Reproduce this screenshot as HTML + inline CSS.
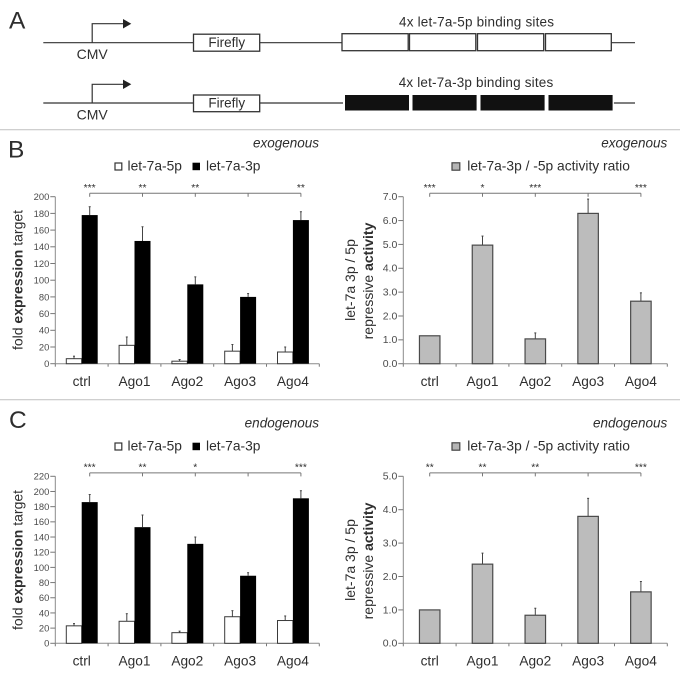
<!DOCTYPE html>
<html lang="en">
<head>
<meta charset="utf-8">
<title>let-7a reporter activity</title>
<style>
html,body{margin:0;padding:0;background:#fff;width:680px;height:680px;overflow:hidden}
svg{display:block;filter:blur(.3px)}
text{font-family:"Liberation Sans",sans-serif;fill:#2e2e2e}
</style>
</head>
<body>
<svg id="figure" xmlns="http://www.w3.org/2000/svg" width="680" height="680" viewBox="0 0 680 680">
  <rect width="680" height="680" fill="#fff"/>
  <rect x="0" y="129" width="680" height="1.3" fill="#cfcfcf"/>
  <rect x="0" y="399" width="680" height="1.3" fill="#cfcfcf"/>

  <text x="9" y="28.5" font-size="24.5">A</text>
  <text x="8" y="157.5" font-size="24.5">B</text>
  <text x="9" y="428" font-size="24.5">C</text>

  <g stroke="#333" fill="none">
    <path d="M43.3 42.7H193.5M259.7 42.7H342M611.3 42.7H635" stroke-width="1.2"/>
    <path d="M92.2 42.7V23.7H124" stroke-width="1.2"/>
    <path d="M123 19L131.3 23.7L123 28.5Z" fill="#222" stroke="none"/>
    <rect x="193.5" y="34.2" width="66.2" height="17" fill="#fff" stroke-width="1.3"/>
    <rect x="342" y="33.7" width="66.2" height="17" fill="#fff" stroke-width="1.3"/>
    <rect x="409.5" y="33.7" width="66.3" height="17" fill="#fff" stroke-width="1.3"/>
    <rect x="477.5" y="33.7" width="66.2" height="17" fill="#fff" stroke-width="1.3"/>
    <rect x="545.5" y="33.7" width="65.8" height="17" fill="#fff" stroke-width="1.3"/>
  </g>
  <text x="92.2" y="59" font-size="14" text-anchor="middle">CMV</text>
  <text x="226.8" y="47" font-size="13.5" text-anchor="middle">Firefly</text>
  <text x="399" y="26.5" font-size="13.5" textLength="155">4x let-7a-5p binding sites</text>

  <g stroke="#333" fill="none">
    <path d="M43.3 103H193.5M259.7 103H343M613.9 103H635" stroke-width="1.2"/>
    <path d="M92.2 103V84.3H124" stroke-width="1.2"/>
    <path d="M123 79.6L131.3 84.3L123 89Z" fill="#222" stroke="none"/>
    <rect x="193.5" y="95" width="66.2" height="16.7" fill="#fff" stroke-width="1.3"/>
    <rect x="345" y="95" width="64" height="15.5" fill="#111" stroke="none"/>
    <rect x="412.5" y="95" width="64.1" height="15.5" fill="#111" stroke="none"/>
    <rect x="480.5" y="95" width="64.1" height="15.5" fill="#111" stroke="none"/>
    <rect x="548.5" y="95" width="64.1" height="15.5" fill="#111" stroke="none"/>
  </g>
  <text x="92.2" y="119.5" font-size="14" text-anchor="middle">CMV</text>
  <text x="226.8" y="107.5" font-size="13.5" text-anchor="middle">Firefly</text>
  <text x="398.7" y="87" font-size="13.5" textLength="154.5">4x let-7a-3p binding sites</text>

  <g>
    <text x="319" y="147.5" font-size="13.5" font-style="italic" text-anchor="end">exogenous</text>
    <text x="667.3" y="147.5" font-size="13.5" font-style="italic" text-anchor="end">exogenous</text>
    <rect x="115" y="163" width="6.8" height="7" fill="#fff" stroke="#333" stroke-width="1.2"/>
    <text x="127.5" y="170.7" font-size="13.8">let-7a-5p</text>
    <rect x="192.5" y="162.7" width="7.5" height="7.5" fill="#000"/>
    <text x="206" y="170.7" font-size="13.8">let-7a-3p</text>
    <rect x="452" y="162.8" width="7.8" height="7.4" fill="#b5b5b5" stroke="#444" stroke-width="1.2"/>
    <text x="467.3" y="170.7" font-size="13.8">let-7a-3p / -5p activity ratio</text>
    <text transform="translate(22.7 280) rotate(-90)" font-size="14" text-anchor="middle">fold <tspan font-weight="bold">expression</tspan> target</text>
    <text transform="translate(355 280) rotate(-90)" font-size="14" text-anchor="middle">let-7a 3p / 5p</text>
    <text transform="translate(373 281) rotate(-90)" font-size="14" text-anchor="middle">repressive <tspan font-weight="bold">activity</tspan></text>
  </g>

  <g>
    <text x="319" y="427.5" font-size="13.5" font-style="italic" text-anchor="end">endogenous</text>
    <text x="667.3" y="427.5" font-size="13.5" font-style="italic" text-anchor="end">endogenous</text>
    <rect x="115" y="443" width="6.8" height="7" fill="#fff" stroke="#333" stroke-width="1.2"/>
    <text x="127.5" y="450.7" font-size="13.8">let-7a-5p</text>
    <rect x="192.5" y="442.7" width="7.5" height="7.5" fill="#000"/>
    <text x="206" y="450.7" font-size="13.8">let-7a-3p</text>
    <rect x="452" y="442.8" width="7.8" height="7.4" fill="#b5b5b5" stroke="#444" stroke-width="1.2"/>
    <text x="467.3" y="450.7" font-size="13.8">let-7a-3p / -5p activity ratio</text>
    <text transform="translate(22.7 560) rotate(-90)" font-size="14" text-anchor="middle">fold <tspan font-weight="bold">expression</tspan> target</text>
    <text transform="translate(355 560) rotate(-90)" font-size="14" text-anchor="middle">let-7a 3p / 5p</text>
    <text transform="translate(373 561) rotate(-90)" font-size="14" text-anchor="middle">repressive <tspan font-weight="bold">activity</tspan></text>
  </g>
  <g id="charts"></g>
</svg>
<script>
const categories = ['ctrl', 'Ago1', 'Ago2', 'Ago3', 'Ago4'];

const exoTicks = [0, 20, 40, 60, 80, 100, 120, 140, 160, 180, 200];
const exo5p = [6, 22, 3, 15, 14];
const exo5pErr = [3, 10, 2, 8, 6];
const exo3p = [178, 147, 95, 80, 172];
const exo3pErr = [10, 17, 9, 4, 10];
const exoStars = ['***', '**', '**', '', '**'];

const exoRatioTicks = [0, 1, 2, 3, 4, 5, 6, 7];
const exoRatio = [1.17, 4.97, 1.04, 6.3, 2.62];
const exoRatioErr = [0, 0.38, 0.25, 0.6, 0.35];
const exoRatioStars = ['***', '*', '***', '', '***'];

const endoTicks = [0, 20, 40, 60, 80, 100, 120, 140, 160, 180, 200, 220];
const endo5p = [23, 29, 14, 35, 30];
const endo5pErr = [3, 10, 2, 8, 6];
const endo3p = [186, 153, 131, 89, 191];
const endo3pErr = [10, 16, 9, 4, 10];
const endoStars = ['***', '**', '*', '', '***'];

const endoRatioTicks = [0, 1, 2, 3, 4, 5];
const endoRatio = [1.0, 2.37, 0.84, 3.8, 1.54];
const endoRatioErr = [0, 0.33, 0.21, 0.54, 0.31];
const endoRatioStars = ['**', '**', '**', '', '***'];

const root = document.getElementById('charts');
const NS = 'http://www.w3.org/2000/svg';

function svgEl(tag, attrs, parent, txt) {
  const el = document.createElementNS(NS, tag);
  for (const k in attrs) el.setAttribute(k, attrs[k]);
  if (txt !== undefined) el.textContent = txt;
  parent.appendChild(el);
  return el;
}

function makeAxes(left, bottom, ticks, decimals, fontSize, stars, bracketOffset, name) {
  const width = 264, height = 167;
  const maxTick = ticks[ticks.length - 1];
  const y = v => bottom - (v / maxTick) * height;
  const band = width / categories.length;
  const cx = i => left + band * (i + 0.5);
  const g = svgEl('g', {}, root);
  
  

  const yLine = svgEl('line', {x1: left, x2: left, y1: y(maxTick), y2: bottom, stroke: '#8a8a8a', 'stroke-width': 1}, g);
  
  
  ticks.forEach(t => {
    const tick = svgEl('line', {x1: left - 5, x2: left, y1: y(t), y2: y(t), stroke: '#777', 'stroke-width': 1}, g);
    
    
    const label = svgEl('text', {x: left - 6, y: y(t) + 3.4, 'font-size': fontSize, 'text-anchor': 'end', style: 'fill:#4a4a4a'}, g, t.toFixed(decimals));
    
    
  });

  for (let i = 0; i <= categories.length; i++) {
    const tick = svgEl('line', {x1: left + band * i, x2: left + band * i, y1: bottom, y2: bottom + 3, stroke: '#777', 'stroke-width': 1}, g);
    
    
  }
  categories.forEach((c, i) => {
    const label = svgEl('text', {x: cx(i), y: bottom + 22.3, 'font-size': 13.7, 'text-anchor': 'middle'}, g, c);
    
    
  });

  const bracketY = bottom - 170.4;
  const bx = i => cx(i) + bracketOffset;
  const bracket = svgEl('line', {x1: bx(0), x2: bx(4), y1: bracketY, y2: bracketY, stroke: '#777', 'stroke-width': 1}, g);
  
  
  stars.forEach((s, i) => {
    const tick = svgEl('line', {x1: bx(i), x2: bx(i), y1: bracketY, y2: bracketY + 3.5, stroke: '#777', 'stroke-width': 1}, g);
    
    
    if (s) {
      const star = svgEl('text', {x: bx(i), y: bracketY - 2.3, 'font-size': 10.3, 'text-anchor': 'middle'}, g, s);
      
      
    }
  });

  const axisLine = svgEl('line', {x1: left, x2: left + width, y1: bottom, y2: bottom, stroke: '#8a8a8a', 'stroke-width': 1}, g);
  
  
  return {g, y, cx, bottom};
}

function drawError(g, x, fromY, toY) {
  const stem = svgEl('line', {x1: x, x2: x, y1: fromY, y2: toY, stroke: '#444', 'stroke-width': 1}, g);
  
  
  const cap = svgEl('line', {x1: x - 1, x2: x + 1, y1: toY, y2: toY, stroke: '#444', 'stroke-width': 1}, g);
  
  
}

function drawGrouped(axes, v5p, e5p, v3p, e3p) {
  const w = 15.4;
  categories.forEach((c, i) => {
    const x = axes.cx(i);
    drawError(axes.g, x - w / 2, axes.y(v5p[i]), axes.y(v5p[i] + e5p[i]));
    drawError(axes.g, x + w / 2 + 0.3, axes.y(v3p[i]), axes.y(v3p[i] + e3p[i]));
    const white = svgEl('rect', {x: x - w, y: axes.y(v5p[i]), width: w, height: axes.bottom - axes.y(v5p[i]), fill: '#fff', stroke: '#3a3a3a', 'stroke-width': 1}, axes.g);
    
    
    const black = svgEl('rect', {x: x, y: axes.y(v3p[i]), width: w + 0.6, height: axes.bottom - axes.y(v3p[i]), fill: '#000'}, axes.g);
    
    
  });
}

function drawRatio(axes, vals, errs) {
  const w = 20.5;
  categories.forEach((c, i) => {
    const x = axes.cx(i);
    if (errs[i] > 0) drawError(axes.g, x, axes.y(vals[i]), axes.y(vals[i] + errs[i]));
    const bar = svgEl('rect', {x: x - w / 2, y: axes.y(vals[i]), width: w, height: axes.bottom - axes.y(vals[i]), fill: '#bcbcbc', stroke: '#4a4a4a', 'stroke-width': 1.2}, axes.g);
    
    
  });
}

drawGrouped(makeAxes(55.3, 363.7, exoTicks, 0, 9.4, exoStars, 8, 'chart-exogenous-expression'), exo5p, exo5pErr, exo3p, exo3pErr);
drawRatio(makeAxes(403.3, 363.7, exoRatioTicks, 1, 10.5, exoRatioStars, 0, 'chart-exogenous-ratio'), exoRatio, exoRatioErr);
drawGrouped(makeAxes(55.3, 643.3, endoTicks, 0, 9.4, endoStars, 8, 'chart-endogenous-expression'), endo5p, endo5pErr, endo3p, endo3pErr);
drawRatio(makeAxes(403.3, 643.3, endoRatioTicks, 1, 10.5, endoRatioStars, 0, 'chart-endogenous-ratio'), endoRatio, endoRatioErr);
</script>
</body>
</html>
